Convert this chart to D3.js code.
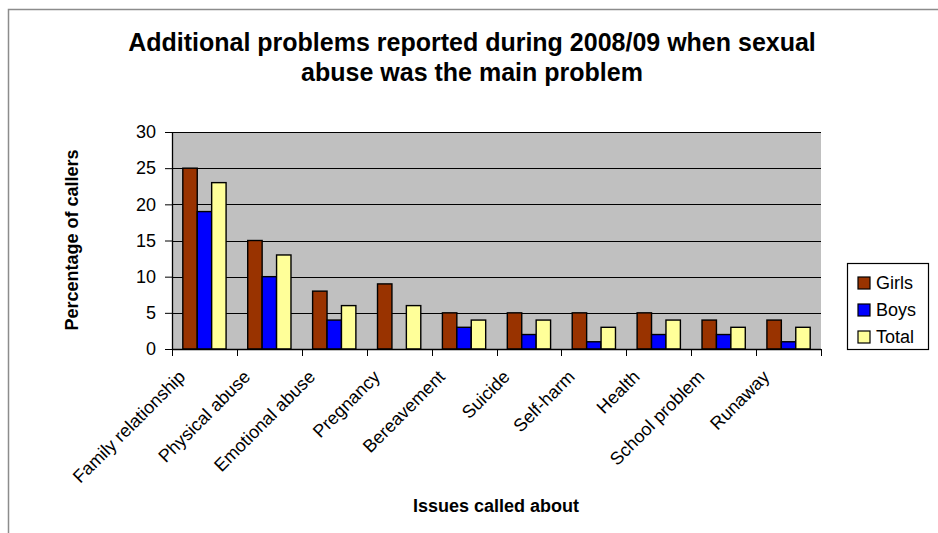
<!DOCTYPE html>
<html>
<head>
<meta charset="utf-8">
<script src="https://cdn.jsdelivr.net/npm/d3@7"></script>
<style>
  html, body { margin: 0; padding: 0; background: #fff; }
  svg { display: block; font-family: Arial, "Liberation Sans", sans-serif; }
</style>
</head>
<body>
<svg id="chart" width="938" height="533"></svg>
<script>
// Issues raised alongside sexual abuse, 2008/09 (percentage of callers)
const categories = ["Family relationship", "Physical abuse", "Emotional abuse", "Pregnancy",
  "Bereavement", "Suicide", "Self-harm", "Health", "School problem", "Runaway"];
const seriesNames = ["Girls", "Boys", "Total"];
const girls = [25, 15, 8, 9, 5, 5, 5, 5, 4, 4];
const boys  = [19, 10, 4, 0, 3, 2, 1, 2, 2, 1];
const total = [23, 13, 6, 6, 4, 4, 3, 4, 3, 3];
const yTicks = [0, 5, 10, 15, 20, 25, 30];
const colors = ["#993300", "#0000FF", "#FFFF99"];

const seriesValues = [girls, boys, total];

const svg = d3.select("#chart");
const W = 938, H = 533;
const plot = { left: 172, top: 132, right: 821, bottom: 349 };

// outer chart frame
svg.append("path")
  .attr("d", `M8.5,${H} V9.5 H${W}`)
  .attr("fill", "none")
  .attr("stroke", "#8c8c8c")
  .attr("stroke-width", 1.5);

// title
const title = svg.append("text")
  .attr("text-anchor", "middle")
  .attr("font-weight", "bold")
  .attr("font-size", 25)
  .attr("fill", "#000");
title.append("tspan").attr("x", 472).attr("y", 51)
  .text("Additional problems reported during 2008/09 when sexual");
title.append("tspan").attr("x", 472).attr("y", 81)
  .text("abuse was the main problem");

// scales
const x = d3.scaleBand().domain(categories).range([plot.left, plot.right]).padding(0);
const y = d3.scaleLinear().domain([0, 30]).range([plot.bottom, plot.top]);
const barW = x.bandwidth() / 4.5;             // three bars + 150% gap
const xs = d3.scaleBand().domain(seriesNames)
  .range([barW * 0.75, barW * 0.75 + barW * 3]).padding(0);

// plot background
svg.append("rect")
  .attr("x", plot.left).attr("y", plot.top)
  .attr("width", plot.right - plot.left).attr("height", plot.bottom - plot.top)
  .attr("fill", "#C0C0C0");

// gridlines
svg.append("g")
  .selectAll("line")
  .data(yTicks.filter(d => d > 0))
  .join("line")
  .attr("x1", plot.left).attr("x2", plot.right)
  .attr("y1", d => Math.round(y(d)) + 0.5).attr("y2", d => Math.round(y(d)) + 0.5)
  .attr("stroke", "#000").attr("stroke-width", 1);

// bars
const groups = svg.append("g")
  .selectAll("g")
  .data(categories)
  .join("g")
  .attr("transform", d => `translate(${x(d)},0)`);

groups.selectAll("rect")
  .data((d, i) => seriesNames.map((s, k) => ({ s, k, v: seriesValues[k][i] })))
  .join("rect")
  .attr("x", d => xs(d.s))
  .attr("y", d => y(d.v))
  .attr("width", xs.bandwidth())
  .attr("height", d => y(0) - y(d.v))
  .attr("fill", d => colors[d.k])
  .attr("stroke", "#000")
  .attr("stroke-width", 1.4);

// y axis
const yAxis = svg.append("g")
  .attr("transform", `translate(${plot.left},0)`)
  .call(d3.axisLeft(y).tickValues(yTicks).tickSize(7).tickPadding(9).tickSizeOuter(0));
yAxis.select(".domain").attr("stroke", "#000").attr("stroke-width", 1.3);
yAxis.selectAll(".tick line").attr("stroke", "#000");
yAxis.selectAll("text")
  .attr("font-size", 18).attr("font-family", "Arial, 'Liberation Sans', sans-serif")
  .attr("fill", "#000");

// x axis: ticks at category boundaries
const xAxis = svg.append("g");
xAxis.append("line")
  .attr("x1", plot.left).attr("x2", plot.right)
  .attr("y1", plot.bottom + 0.5).attr("y2", plot.bottom + 0.5)
  .attr("stroke", "#000").attr("stroke-width", 1.3);
const bounds = categories.map(c => x(c)).concat([x(categories[categories.length - 1]) + x.bandwidth()]);
xAxis.selectAll("line.tk")
  .data(bounds)
  .join("line")
  .attr("class", "tk")
  .attr("x1", d => Math.round(d) + 0.5).attr("x2", d => Math.round(d) + 0.5)
  .attr("y1", plot.bottom).attr("y2", plot.bottom + 7)
  .attr("stroke", "#000");

xAxis.selectAll("text")
  .data(categories)
  .join("text")
  .attr("transform", d => `translate(${x(d) + x.bandwidth() / 2 - 18},${plot.bottom + 29}) rotate(-45)`)
  .attr("text-anchor", "end")
  .attr("font-size", 18)
  .attr("fill", "#000")
  .text(d => d);

// axis titles
svg.append("text")
  .attr("transform", "translate(78,240) rotate(-90)")
  .attr("text-anchor", "middle")
  .attr("font-weight", "bold")
  .attr("font-size", 18)
  .text("Percentage of callers");

svg.append("text")
  .attr("x", 496).attr("y", 512)
  .attr("text-anchor", "middle")
  .attr("font-weight", "bold")
  .attr("font-size", 18)
  .text("Issues called about");

// legend
const legend = svg.append("g").attr("transform", "translate(847,263)");
legend.append("rect")
  .attr("x", 0.5).attr("y", 0.5).attr("width", 81).attr("height", 86)
  .attr("fill", "#fff").attr("stroke", "#000").attr("stroke-width", 1.2);
const items = legend.selectAll("g.item")
  .data(seriesNames)
  .join("g")
  .attr("class", "item")
  .attr("transform", (d, i) => `translate(0,${14 + i * 27})`);
items.append("rect")
  .attr("x", 11).attr("y", 0).attr("width", 12).attr("height", 12)
  .attr("fill", (d, i) => colors[i]).attr("stroke", "#000").attr("stroke-width", 1.2);
items.append("text")
  .attr("x", 29).attr("y", 12)
  .attr("font-size", 18)
  .attr("fill", "#000")
  .text(d => d);
</script>
</body>
</html>
